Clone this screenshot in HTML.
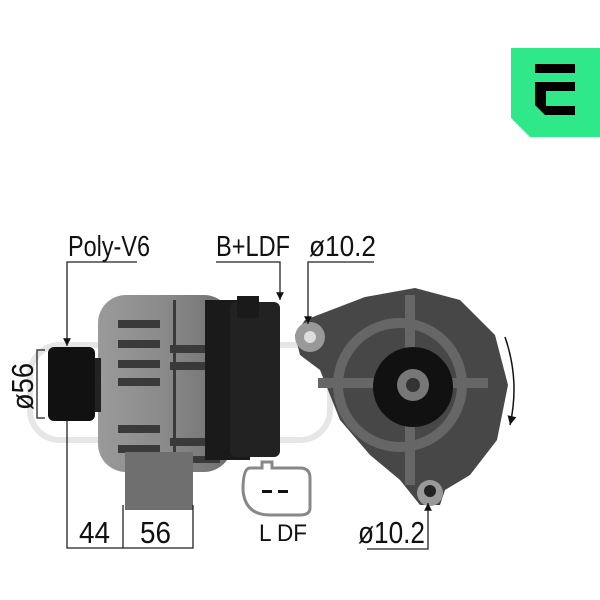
<!DOCTYPE html>
<html><head><meta charset="utf-8"><style>
html,body{margin:0;padding:0;background:#fff;width:600px;height:600px;overflow:hidden}
svg{display:block}
text{font-family:"Liberation Sans",sans-serif;fill:#111}
</style></head><body>
<svg width="600" height="600" viewBox="0 0 600 600" xmlns="http://www.w3.org/2000/svg">
<defs>
<marker id="ar" viewBox="0 0 10 10" refX="10" refY="5" markerWidth="7" markerHeight="6" orient="auto"><path d="M0,0 L10,5 L0,10 z" fill="#111"/></marker>
<linearGradient id="gb" x1="0" x2="1"><stop offset="0" stop-color="#9a9a9a"/><stop offset=".5" stop-color="#8a8a8a"/><stop offset="1" stop-color="#6e6e6e"/></linearGradient>
</defs>
<!-- logo -->
<path d="M511,48 H600 V137 H530 L511,118 Z" fill="#2fe88a"/>
<rect x="535" y="64" width="40" height="9" fill="#000"/>
<path d="M535,82 H575 V91 H546 V106 H575 V115 H545 L535,105 Z" fill="#000"/>
<!-- watermark -->
<rect x="30" y="345" width="300" height="95" rx="30" fill="none" stroke="#e6e6e6" stroke-width="6"/>
<!-- left alternator body -->
<rect x="98" y="295" width="134" height="177" rx="28" fill="url(#gb)"/>
<g fill="#3a3a3a">
<rect x="118" y="320" width="42" height="8"/><rect x="118" y="340" width="42" height="8"/><rect x="118" y="360" width="42" height="8"/><rect x="118" y="378" width="42" height="8"/><rect x="118" y="425" width="42" height="8"/><rect x="118" y="445" width="42" height="8"/>
<rect x="170" y="345" width="50" height="8"/><rect x="170" y="362" width="50" height="8"/><rect x="170" y="438" width="50" height="8"/><rect x="170" y="456" width="50" height="7"/>
<rect x="173" y="300" width="3" height="165"/>
</g>
<rect x="205" y="300" width="45" height="160" fill="#1a1a1a"/>
<rect x="230" y="302" width="50" height="155" rx="6" fill="#222"/>
<rect x="237" y="296" width="22" height="22" fill="#1a1a1a"/>
<rect x="125" y="452" width="68" height="58" fill="#6f6f6f"/>
<!-- pulley -->
<rect x="48" y="347" width="47" height="74" rx="6" fill="#111"/>
<rect x="95" y="358" width="6" height="54" fill="#222"/>
<!-- right alternator -->
<path d="M295,335 L305,320 L365,297 L415,288 L460,300 L495,335 L508,385 L497,440 L470,475 L445,490 L440,505 L420,505 L400,480 L370,455 L340,420 L320,370 L300,355 Z" fill="#474747"/>
<circle cx="400" cy="385" r="62" fill="none" stroke="#666" stroke-width="10"/>
<rect x="318" y="378" width="170" height="10" fill="#666"/>
<rect x="405" y="295" width="10" height="190" fill="#666"/>
<circle cx="310" cy="337" r="15" fill="#999"/><circle cx="310" cy="337" r="6" fill="#ddd"/>
<circle cx="413" cy="387" r="40" fill="#111"/>
<circle cx="413" cy="385" r="16" fill="#777"/><circle cx="413" cy="385" r="7" fill="#333"/>
<circle cx="430" cy="493" r="13" fill="#999"/><circle cx="430" cy="491" r="6" fill="#222"/>
<!-- plug -->
<path d="M250,468 H262 V462 H272 V468 H300 Q310,468 310,478 V508 Q310,515 300,515 H270 Q245,515 243,490 Q243,468 250,468 Z" fill="none" stroke="#888" stroke-width="3"/>
<rect x="262" y="490" width="10" height="3" fill="#111"/><rect x="278" y="490" width="10" height="3" fill="#111"/>
<!-- curved arrow -->
<path d="M505,337 Q520,380 510,425" fill="none" stroke="#111" stroke-width="1.5" marker-end="url(#ar)"/>
<!-- dimension lines -->
<g stroke="#222" stroke-width="1.3" fill="none">
<polyline points="137,262 67,262 67,346" marker-end="url(#ar)"/>
<polyline points="216,262 280,262 280,300" marker-end="url(#ar)"/>
<polyline points="374,262 308,262 308,324" marker-end="url(#ar)"/>
<polyline points="45,350 37,350 37,418 45,418"/>
<polyline points="67,421 67,548 193,548 193,505"/>
<line x1="123" y1="505" x2="123" y2="548"/>
<polyline points="367,549 428,549 428,503" marker-end="url(#ar)"/>
</g>
<text x="68" y="256" font-size="29" textLength="82" lengthAdjust="spacingAndGlyphs">Poly-V6</text>
<text x="216" y="256" font-size="29" textLength="74" lengthAdjust="spacingAndGlyphs">B+LDF</text>
<text x="309" y="256" font-size="29" textLength="67" lengthAdjust="spacingAndGlyphs">ø10.2</text>
<text x="79" y="543" font-size="31" textLength="31" lengthAdjust="spacingAndGlyphs">44</text>
<text x="140" y="543" font-size="31" textLength="31" lengthAdjust="spacingAndGlyphs">56</text>
<text x="259" y="541" font-size="24" textLength="48" lengthAdjust="spacingAndGlyphs">L  DF</text>
<text x="358" y="543" font-size="31" textLength="67" lengthAdjust="spacingAndGlyphs">ø10.2</text>
<text transform="translate(33,410) rotate(-90)" font-size="31" textLength="47" lengthAdjust="spacingAndGlyphs">ø56</text>
</svg>
</body></html>
